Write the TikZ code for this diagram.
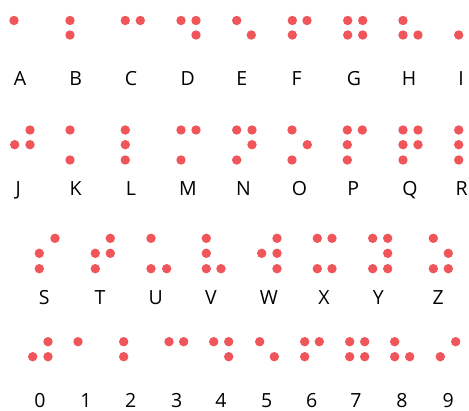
\documentclass[tikz,border=0pt]{standalone}
\usepackage{fontspec}
\setmainfont{Open Sans}
\definecolor{brl}{RGB}{240,85,90}
\tikzset{
  brdot/.style={circle,fill=brl,draw=none,inner sep=0pt,minimum size=9.4pt},
  lbl/.style={anchor=base,inner sep=0pt,font=\fontsize{19.5}{23}\selectfont,text=black}
}
\newcommand\brcell[4]{%
  \foreach \dx/\dy [count=\i] in {#4} {\node[brdot] (#1-\i) at (\dx,\dy) {};}
  \node[lbl] (L#1) at (#2,#3) {#1};}
\begin{document}
\begin{tikzpicture}[x=1pt,y=-1pt]
\useasboundingbox (0,0) rectangle (469,411);
% row 1
\brcell{A}{20}{86}{14/20.5}
\brcell{B}{75.7}{86}{70/20.5,70/35}
\brcell{C}{131}{86}{125.3/20.5,140.3/20.5}
\brcell{D}{187.7}{86}{181/20.5,196/20.5,196/35}
\brcell{E}{241.7}{86}{236.7/20.5,251.3/35}
\brcell{F}{296.7}{86}{292.3/20.5,307/20.5,292.3/35}
\brcell{G}{354}{86}{347.7/20.5,362.7/20.5,347.7/35,362.7/35}
\brcell{H}{409}{86}{403/20.5,403/35,418/35}
\brcell{I}{461}{86}{458.7/35}
% row 2
\brcell{J}{18.3}{196}{30/130,14.7/144.7,30/144.7}
\brcell{K}{75.7}{196}{70/130,70/160}
\brcell{L}{131}{196}{125.3/130,125.3/144.7,125.3/160}
\brcell{M}{188}{196}{181/130,196/130,181/160}
\brcell{N}{243.5}{196}{236.7/130,252/130,252/144.7,236.7/160}
\brcell{O}{299.5}{196}{292/130,307.3/144.7,292/160}
\brcell{P}{353.3}{196}{347.3/130,362.3/130,347.3/144.7,347.3/160}
\brcell{Q}{410}{196}{403/130,418/130,403/144.7,418/144.7,403/160}
\brcell{R}{461.7}{196}{458.7/130,458.7/144.7,473.7/144.7,458.7/160}
% row 3
\brcell{S}{44.3}{304.3}{55/238.3,39.3/253.3,39.3/268.7}
\brcell{T}{100}{304.3}{110.3/238.3,95.3/253.3,110.3/253.3,95.3/268.7}
\brcell{U}{155.7}{304.3}{151/238.3,151/268.7,166.7/268.7}
\brcell{V}{211}{304.3}{206.3/238.3,206.3/253.3,206.3/268.7,221/268.7}
\brcell{W}{269}{304.3}{277/238.3,261.7/253.3,277/253.3,277/268.7}
\brcell{X}{324}{304.3}{317.3/238.3,332/238.3,317.3/268.7,332/268.7}
\brcell{Y}{378.3}{304.3}{372.7/238.3,387.7/238.3,387.7/253.3,372.7/268.7,387.7/268.7}
\brcell{Z}{438.3}{304.3}{433.3/238.3,448.3/253.3,433.3/268.7,448.3/268.7}
% row 4
\brcell{0}{40}{407.8}{48/341.7,32.7/356.7,48/356.7}
\brcell{1}{86}{407.8}{78/341.7}
\brcell{2}{130.7}{407.8}{123.7/341.7,123.7/356.7}
\brcell{3}{176.7}{407.8}{169/341.7,183.7/341.7}
\brcell{4}{221}{407.8}{213.7/341.7,228.7/341.7,228.7/356.7}
\brcell{5}{266.7}{407.8}{259.7/341.7,274.3/356.7}
\brcell{6}{311.7}{407.8}{304.7/341.7,319.3/341.7,304.7/356.7}
\brcell{7}{356}{407.8}{349.7/341.7,364.7/341.7,349.7/356.7,364.7/356.7}
\brcell{8}{402}{407.8}{394.7/341.7,394.7/356.7,409.7/356.7}
\brcell{9}{448.3}{407.8}{455.7/341.7,440.3/356.7}
\end{tikzpicture}
\end{document}
